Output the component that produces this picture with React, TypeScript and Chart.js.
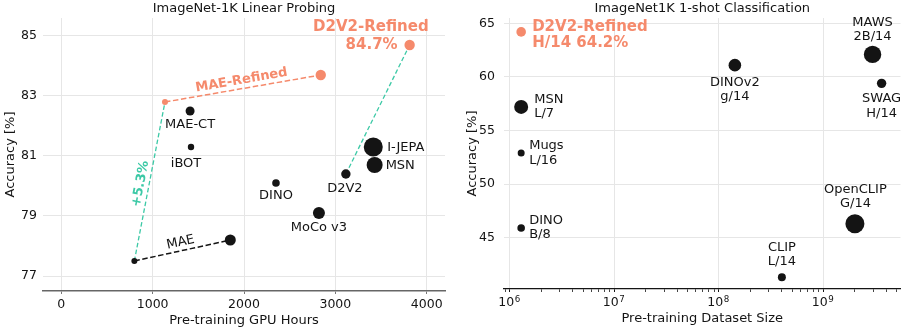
import React, { useEffect, useRef } from 'react';
import { Chart, registerables } from 'chart.js';

Chart.register(...registerables);

const FONT = '"DejaVu Sans", sans-serif';
const SALMON = '#f58a6c';
const TEAL = '#3cc9a6';
const INK = '#141414';
const GRID = '#e6e6e6';
const LABEL_PX = 13;
const TICK_PX = 12.5;

// ---------- Left chart data ----------
const leftTitle = 'ImageNet-1K Linear Probing';
const gpuTicks = [0, 1000, 2000, 3000, 4000];
const accTicksLeft = [77, 79, 81, 83, 85];
const maeHours = [800, 1850];
const maeAcc = [77.5, 78.2];
const maeRefinedHours = [1135, 2840];
const maeRefinedAcc = [82.8, 83.7];
const d2v2Hours = [3115, 3813]; // D2V2 -> D2V2-Refined
const d2v2Acc = [80.4, 84.7];
const modelNames = ['MAE-CT', 'iBOT', 'DINO', 'MoCo v3', 'I-JEPA', 'MSN'];
const modelHours = [1410, 1420, 2350, 2820, 3415, 3430];
const modelAcc = [82.5, 81.3, 80.1, 79.1, 81.3, 80.7];
const modelMarkerR = [4.5, 3.2, 3.8, 6, 9.5, 8];

// ---------- Right chart data ----------
const rightTitle = 'ImageNet1K 1-shot Classification';
const accTicksRight = [45, 50, 55, 60, 65];
const sizeDecades = [6, 7, 8, 9];
const shotNames = [
  ['MSN', 'L/7'],
  ['Mugs', 'L/16'],
  ['DINO', 'B/8'],
  ['DINOv2', 'g/14'],
  ['MAWS', '2B/14'],
  ['SWAG', 'H/14'],
  ['OpenCLIP', 'G/14'],
  ['CLIP', 'L/14'],
];
const datasetSize = [1.28e6, 1.28e6, 1.28e6, 1.42e8, 2.95e9, 3.6e9, 2.0e9, 4.0e8];
const shotAcc = [57.2, 52.9, 45.9, 61.1, 62.1, 59.4, 46.3, 41.3];
const shotMarkerR = [7, 3.5, 3.8, 6.3, 8.7, 4.7, 9.5, 4];
const refinedSize = [1.28e6];
const refinedAcc = [64.2];
const refinedLabel = ['D2V2-Refined', 'H/14 64.2%'];

// ---------- label placement (styles) ----------
const leftPlace = [
  { dx: 0, dy: 14, align: 'center' },
  { dx: -5, dy: 17, align: 'center' },
  { dx: 0, dy: 13, align: 'center' },
  { dx: 0, dy: 14.5, align: 'center' },
  { dx: 14, dy: 1, align: 'left' },
  { dx: 11, dy: 0.5, align: 'left' },
];
const rightPlace = [
  { dx: 13, dy: -7.4, align: 'left' },
  { dx: 8, dy: -7, align: 'left' },
  { dx: 8, dy: -7.5, align: 'left' },
  { dx: 0, dy: 17.4, align: 'center' },
  { dx: 0, dy: -31.6, align: 'center' },
  { dx: 0, dy: 15.6, align: 'center' },
  { dx: 0.5, dy: -34, align: 'center' },
  { dx: 0, dy: -29.7, align: 'center' },
];

const pts = (xs: number[], ys: number[]) => xs.map((x, i) => ({ x, y: ys[i] }));

function text(ctx: CanvasRenderingContext2D, s: string, x: number, y: number, font: string, color: string, align: CanvasTextAlign = 'center') {
  ctx.save();
  ctx.font = font;
  ctx.fillStyle = color;
  ctx.textAlign = align;
  ctx.textBaseline = 'middle';
  ctx.fillText(s, x, y);
  ctx.restore();
}

function along(chart: any, a: number[], b: number[], s: string, font: string, color: string, offset: number, shift = 0) {
  const ctx = chart.ctx as CanvasRenderingContext2D;
  const xs = chart.scales.x, ys = chart.scales.y;
  const x0 = xs.getPixelForValue(a[0]), y0 = ys.getPixelForValue(a[1]);
  const x1 = xs.getPixelForValue(b[0]), y1 = ys.getPixelForValue(b[1]);
  const ang = Math.atan2(y1 - y0, x1 - x0);
  const mx = (x0 + x1) / 2 + Math.cos(ang) * shift, my = (y0 + y1) / 2 + Math.sin(ang) * shift;
  ctx.save();
  ctx.translate(mx + offset * Math.sin(ang), my - offset * Math.cos(ang));
  ctx.rotate(ang);
  ctx.font = font;
  ctx.fillStyle = color;
  ctx.textAlign = 'center';
  ctx.textBaseline = 'middle';
  ctx.fillText(s, 0, 0);
  ctx.restore();
}

function titlePlugin(title: string) {
  return {
    id: 'customTitle',
    afterDraw(chart: any) {
      const { left, right } = chart.chartArea;
      text(chart.ctx, title, (left + right) / 2, 9, `${LABEL_PX}px ${FONT}`, INK);
    },
  };
}

const leftAnnot = {
  id: 'leftAnnot',
  afterDatasetsDraw(chart: any) {
    const ctx = chart.ctx;
    const xs = chart.scales.x, ys = chart.scales.y;
    const f = `${LABEL_PX}px ${FONT}`;
    modelNames.forEach((n, i) => {
      const p = leftPlace[i];
      text(ctx, n, xs.getPixelForValue(modelHours[i]) + p.dx, ys.getPixelForValue(modelAcc[i]) + p.dy, f, INK, p.align as CanvasTextAlign);
    });
    // D2V2
    text(ctx, 'D2V2', xs.getPixelForValue(d2v2Hours[0]) - 1, ys.getPixelForValue(d2v2Acc[0]) + 14.5, f, INK);
    // D2V2-Refined
    const rx = xs.getPixelForValue(d2v2Hours[1]), ry = ys.getPixelForValue(d2v2Acc[1]);
    text(ctx, 'D2V2-Refined', rx + 19, ry - 17.5, `bold 15px ${FONT}`, SALMON, 'right');
    text(ctx, `${d2v2Acc[1]}%`, rx - 12, ry, `bold 15px ${FONT}`, SALMON, 'right');
    // rotated labels
    along(chart, [maeHours[0], maeAcc[0]], [maeHours[1], maeAcc[1]], 'MAE', f, INK, 8.3);
    along(chart, [maeRefinedHours[0], maeRefinedAcc[0]], [maeRefinedHours[1], maeRefinedAcc[1]], 'MAE-Refined', `bold 13px ${FONT}`, SALMON, 8.3);
    const gain = (maeRefinedAcc[0] - maeAcc[0]).toFixed(1);
    along(chart, [maeHours[0], maeAcc[0]], [maeRefinedHours[0], maeRefinedAcc[0]], `+${gain}%`, `bold 13px ${FONT}`, TEAL, 8.5, -4);
  },
};

const rightAnnot = {
  id: 'rightAnnot',
  afterDatasetsDraw(chart: any) {
    const ctx = chart.ctx;
    const xs = chart.scales.x, ys = chart.scales.y;
    const f = `${LABEL_PX}px ${FONT}`;
    shotNames.forEach((lines, i) => {
      const p = rightPlace[i];
      const x = xs.getPixelForValue(datasetSize[i]) + p.dx;
      const y = ys.getPixelForValue(shotAcc[i]) + p.dy;
      lines.forEach((l, k) => text(ctx, l, x, y + k * 14.3, f, INK, p.align as CanvasTextAlign));
    });
    const rx = xs.getPixelForValue(refinedSize[0]) + 11, ry = ys.getPixelForValue(refinedAcc[0]) - 5;
    refinedLabel.forEach((l, k) => text(ctx, l, rx, ry + k * 16.6, `bold 15px ${FONT}`, SALMON, 'left'));
  },
  afterDraw(chart: any) {
    // power-of-ten tick labels with superscript exponents
    const ctx = chart.ctx as CanvasRenderingContext2D;
    const xs = chart.scales.x;
    const base = xs.top + 17;
    sizeDecades.forEach((d) => {
      const px = xs.getPixelForValue(Math.pow(10, d));
      const exp = String(d);
      ctx.save();
      ctx.fillStyle = INK;
      ctx.textBaseline = 'alphabetic';
      ctx.textAlign = 'left';
      ctx.font = `${TICK_PX}px ${FONT}`;
      const w1 = ctx.measureText('10').width;
      ctx.font = `8.7px ${FONT}`;
      const w2 = ctx.measureText(exp).width;
      const x0 = px - (w1 + w2) / 2 - 1;
      ctx.font = `${TICK_PX}px ${FONT}`;
      ctx.fillText('10', x0, base);
      ctx.font = `8.7px ${FONT}`;
      ctx.fillText(exp, x0 + w1 + 0.5, base - 4.5);
      ctx.restore();
    });
  },
};

function LeftChart() {
  const ref = useRef<HTMLCanvasElement>(null);
  useEffect(() => {
    const chart = new Chart(ref.current!, {
      type: 'scatter',
      data: {
        datasets: [
          {
            data: pts(modelHours, modelAcc),
            pointRadius: modelMarkerR,
            pointBackgroundColor: INK,
            pointBorderWidth: 0,
            showLine: false,
          },
          {
            data: pts(d2v2Hours, d2v2Acc),
            pointRadius: [4.7, 5.2],
            pointBackgroundColor: [INK, SALMON],
            pointBorderWidth: 0,
            showLine: false,
          },
          {
            data: pts(maeHours, maeAcc),
            showLine: true,
            borderColor: INK,
            borderWidth: 1.5,
            borderDash: [5.5, 2.6],
            pointRadius: [3, 5.5],
            pointBackgroundColor: INK,
            pointBorderWidth: 0,
          },
          {
            data: pts(maeRefinedHours, maeRefinedAcc),
            showLine: true,
            borderColor: SALMON,
            borderWidth: 1.5,
            borderDash: [5.5, 2.6],
            pointRadius: [3, 5.2],
            pointBackgroundColor: SALMON,
            pointBorderWidth: 0,
          },
          {
            data: [{ x: maeHours[0], y: maeAcc[0] }, { x: maeRefinedHours[0], y: maeRefinedAcc[0] }],
            showLine: true,
            borderColor: TEAL,
            borderWidth: 1.3,
            borderDash: [4.5, 2.5],
            pointRadius: 0,
          },
          {
            data: pts(d2v2Hours, d2v2Acc),
            showLine: true,
            borderColor: TEAL,
            borderWidth: 1.3,
            borderDash: [4.5, 2.5],
            pointRadius: 0,
          },
        ],
      },
      options: {
        responsive: false,
        animation: false,
        devicePixelRatio: 1,
        layout: { padding: { top: 18, right: 10, left: 0, bottom: 0 } },
        plugins: { legend: { display: false }, tooltip: { enabled: false } },
        scales: {
          x: {
            type: 'linear',
            min: -200,
            max: 4200,
            afterBuildTicks: (s: any) => { s.ticks = gpuTicks.map((v) => ({ value: v })); },
            afterFit: (s: any) => { s.height = 40; },
            grid: { color: GRID, tickColor: '#777', tickLength: 3, lineWidth: 1 },
            border: { display: true, color: '#666', width: 1.6 },
            ticks: { color: INK, font: { family: FONT, size: TICK_PX }, padding: 3, maxRotation: 0, autoSkip: false, callback: (v: any) => String(v) },
            title: { display: true, text: 'Pre-training GPU Hours', color: INK, font: { family: FONT, size: LABEL_PX }, padding: { top: 0, bottom: 3 } },
          },
          y: {
            type: 'linear',
            min: 76.5,
            max: 85.6,
            afterBuildTicks: (s: any) => { s.ticks = accTicksLeft.map((v) => ({ value: v })); },
            afterFit: (s: any) => { s.width = 43; },
            grid: { color: GRID, drawTicks: false, lineWidth: 1 },
            border: { display: false },
            ticks: { color: INK, font: { family: FONT, size: TICK_PX }, padding: 6, autoSkip: false, callback: (v: any) => String(v) },
            title: { display: true, text: 'Accuracy [%]', color: INK, font: { family: FONT, size: LABEL_PX }, padding: { top: 3, bottom: 0 } },
          },
        },
      },
      plugins: [leftAnnot, titlePlugin(leftTitle)],
    } as any);
    return () => chart.destroy();
  }, []);
  return <canvas ref={ref} width={455} height={331} style={{ position: 'absolute', left: 0, top: 0 }} />;
}

function RightChart() {
  const ref = useRef<HTMLCanvasElement>(null);
  useEffect(() => {
    const isMajor = (v: number) => Math.abs(Math.log10(v) - Math.round(Math.log10(v))) < 1e-9;
    const chart = new Chart(ref.current!, {
      type: 'scatter',
      data: {
        datasets: [
          {
            data: pts(refinedSize, refinedAcc),
            pointRadius: 4.8,
            pointBackgroundColor: SALMON,
            pointBorderWidth: 0,
          },
          {
            data: pts(datasetSize, shotAcc),
            pointRadius: shotMarkerR,
            pointBackgroundColor: INK,
            pointBorderWidth: 0,
          },
        ],
      },
      options: {
        responsive: false,
        animation: false,
        devicePixelRatio: 1,
        layout: { padding: { top: 18, right: 6, left: 0, bottom: 0 } },
        plugins: { legend: { display: false }, tooltip: { enabled: false } },
        scales: {
          x: {
            type: 'logarithmic',
            min: 8.77e5,
            max: 5.46e9,
            afterBuildTicks: (s: any) => {
              const t: any[] = [];
              for (let d = 5; d <= 9; d++) {
                for (let m = 1; m <= 9; m++) {
                  const v = m * Math.pow(10, d);
                  if (v >= s.min && v <= s.max) t.push({ value: v, major: m === 1 });
                }
              }
              s.ticks = t;
            },
            afterFit: (s: any) => { s.height = 42; },
            grid: {
              color: (c: any) => (c.tick && isMajor(c.tick.value) ? GRID : 'rgba(0,0,0,0)'),
              tickColor: INK,
              tickLength: 3,
              tickWidth: (c: any) => (c.tick && isMajor(c.tick.value) ? 1 : 0.8),
            },
            border: { display: true, color: INK, width: 1.3 },
            ticks: { callback: () => '', autoSkip: false, maxRotation: 0, font: { family: FONT, size: TICK_PX } },
            title: { display: true, text: 'Pre-training Dataset Size', color: INK, font: { family: FONT, size: LABEL_PX }, padding: { top: 0, bottom: 5 } },
          },
          y: {
            type: 'linear',
            min: 40.2,
            max: 65.5,
            afterBuildTicks: (s: any) => { s.ticks = accTicksRight.map((v) => ({ value: v })); },
            afterFit: (s: any) => { s.width = 44; },
            grid: { color: GRID, drawTicks: false, lineWidth: 1 },
            border: { display: false },
            ticks: { color: INK, font: { family: FONT, size: TICK_PX }, padding: 9, autoSkip: false },
            title: { display: true, text: 'Accuracy [%]', color: INK, font: { family: FONT, size: LABEL_PX }, padding: { top: 5, bottom: 0 } },
          },
        },
      },
      plugins: [rightAnnot, titlePlugin(rightTitle)],
    } as any);
    return () => chart.destroy();
  }, []);
  return <canvas ref={ref} width={450} height={331} style={{ position: 'absolute', left: 460, top: 0 }} />;
}

export default function App() {
  return (
    <div style={{ position: 'absolute', left: 0, top: 0, width: 910, height: 331, background: '#fff', overflow: 'hidden' }}>
      <LeftChart />
      <RightChart />
    </div>
  );
}
